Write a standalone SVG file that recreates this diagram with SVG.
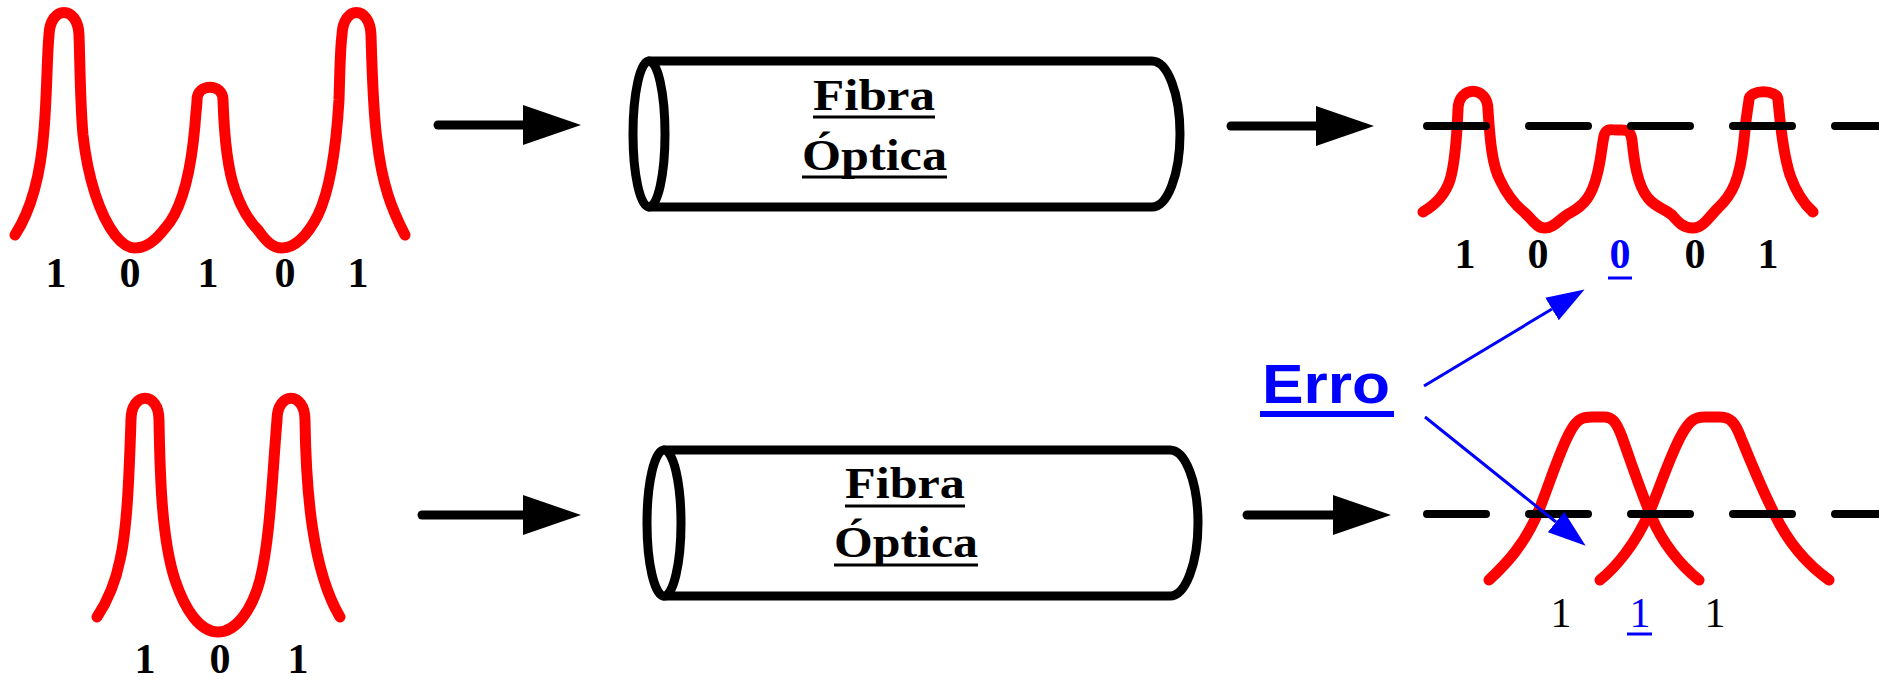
<svg xmlns="http://www.w3.org/2000/svg" width="1879" height="680" viewBox="0 0 1879 680">
<style>
.wave{fill:none;stroke:#ff0000;stroke-width:11;stroke-linecap:round;stroke-linejoin:round}
.cyl{fill:#ffffff;stroke:#000000;stroke-width:9;stroke-linejoin:round}
.dash{stroke:#000000;stroke-width:8;stroke-linecap:round;stroke-dasharray:59 43}
.arrow{stroke:#000000;stroke-width:9;stroke-linecap:round;fill:none}
.barrow{stroke:#0000ff;stroke-width:3;fill:none}
.lbl{font-family:"Liberation Serif","Times New Roman",serif;font-weight:bold;font-size:42px;fill:#000000;text-anchor:middle}
.lblr{font-family:"Liberation Serif","Times New Roman",serif;font-weight:normal;font-size:42px;fill:#000000;text-anchor:middle}
.blue{fill:#0000ff}
.fib{font-family:"Liberation Serif","Times New Roman",serif;font-weight:bold;font-size:44px;fill:#000000}
.ul{stroke:#000000;stroke-width:3}
.ulb{stroke:#0000ff;stroke-width:3}
.erro{font-family:"Liberation Sans",Arial,sans-serif;font-weight:bold;font-size:56px;fill:#0000ff}
</style>
<defs>
<marker id="ah" markerUnits="userSpaceOnUse" markerWidth="60" markerHeight="42" viewBox="0 -21 60 42" refX="0" refY="0" orient="auto">
<path d="M0,-20 L58,0 L0,20 Z" fill="#000000"/>
</marker>
<marker id="bh" markerUnits="userSpaceOnUse" markerWidth="40" markerHeight="28" viewBox="0 -14 40 28" refX="0" refY="0" orient="auto">
<path d="M0,-13 L38,0 L0,13 Z" fill="#0000ff"/>
</marker>
</defs>

<g id="input-top">
<path class="wave" d="M15,235 C28,215 40,185 44,130 C47,95 47,55 49,35 C50,5 78,5 79,35 C80,60 80,100 83,135 C88,180 100,215 115,235 C122,244 128,248 135,248 C150,248 160,235 170,222 C185,200 192,160 195,125 C196,110 197,105 197,100 C197,83 223,83 223,100 C224,130 226,165 235,190 C242,210 250,222 258,230 C265,240 272,248 282,248 C295,248 308,235 318,215 C330,190 336,150 339,100 C340,70 340,50 342,35 C343,5 370,5 371,35 C372,70 373,110 377,140 C382,185 392,210 405,235"/>
<text class="lbl" x="56" y="287">1</text>
<text class="lbl" x="130" y="287">0</text>
<text class="lbl" x="208" y="287">1</text>
<text class="lbl" x="285" y="287">0</text>
<text class="lbl" x="358" y="287">1</text>
</g>

<g id="fiber-top">
<path class="cyl" d="M649,61 H1152 A28,73 0 0 1 1152,207 H649 Z"/>
<ellipse class="cyl" cx="649" cy="134" rx="16" ry="73"/>
<text class="fib" x="813" y="110" textLength="122" lengthAdjust="spacingAndGlyphs">Fibra</text>
<line class="ul" x1="813" y1="117" x2="935" y2="117"/>
<text class="fib" x="802" y="170" textLength="145" lengthAdjust="spacingAndGlyphs">Óptica</text>
<line class="ul" x1="802" y1="177" x2="947" y2="177"/>
</g>

<g id="output-top">
<path class="wave" d="M1423,212 C1435,205 1445,195 1450,180 C1456,160 1457,130 1458,110 C1458,85 1488,85 1488,110 C1490,140 1492,165 1500,180 C1507,195 1515,205 1525,213 C1532,219 1536,228 1545,228 C1555,228 1561,217 1570,213 C1585,205 1592,195 1597,175 C1601,160 1602,145 1604,136 C1606,128 1610,130 1617,130 C1625,130 1630,128 1632,140 C1634,160 1637,185 1648,198 C1655,207 1665,209 1672,215 C1678,222 1683,228 1693,228 C1703,228 1708,218 1718,208 C1732,195 1740,180 1744,140 C1746,115 1748,108 1749,100 C1749,89 1778,89 1778,100 C1780,120 1782,150 1790,175 C1796,192 1805,205 1813,212"/>
<line class="dash" x1="1427" y1="126" x2="1890" y2="126"/>
<text class="lbl" x="1465" y="268">1</text>
<text class="lbl" x="1538" y="268">0</text>
<text class="lbl blue" x="1620" y="268">0</text>
<line class="ulb" x1="1608" y1="278" x2="1632" y2="278"/>
<text class="lbl" x="1695" y="268">0</text>
<text class="lbl" x="1768" y="268">1</text>
</g>

<g id="input-bottom">
<path class="wave" d="M97,617 C105,605 115,585 120,560 C127,530 129,480 131,420 C131,391 159,391 159,420 C160,480 162,540 175,580 C185,610 200,632 218,632 C236,632 252,610 260,580 C270,540 272,480 277,420 C277,391 305,391 305,420 C306,490 312,570 340,617"/>
<text class="lbl" x="145" y="673">1</text>
<text class="lbl" x="220" y="673">0</text>
<text class="lbl" x="298" y="673">1</text>
</g>

<g id="fiber-bottom">
<path class="cyl" d="M664,450 H1170 A28,73 0 0 1 1170,596 H664 Z"/>
<ellipse class="cyl" cx="664" cy="523" rx="17" ry="73"/>
<text class="fib" x="845" y="498" textLength="120" lengthAdjust="spacingAndGlyphs">Fibra</text>
<line class="ul" x1="845" y1="506" x2="965" y2="506"/>
<text class="fib" x="834" y="557" textLength="144" lengthAdjust="spacingAndGlyphs">Óptica</text>
<line class="ul" x1="834" y1="565" x2="978" y2="565"/>
</g>

<g id="output-bottom">
<path class="wave" d="M1489,580 C1505,565 1525,545 1539,510 C1550,482 1560,450 1570,432 C1577,419 1582,417 1592,417 L1604,417 C1612,417 1616,421 1622,437 C1632,465 1640,490 1652,518 C1662,542 1680,565 1699,580"/>
<path class="wave" d="M1600,580 C1615,568 1635,545 1649,513 C1660,488 1670,455 1682,434 C1690,420 1695,417 1705,417 L1720,417 C1730,417 1735,422 1741,438 C1750,460 1762,490 1775,515 C1788,542 1808,565 1829,580"/>
<line class="dash" x1="1427" y1="514" x2="1890" y2="514"/>
<text class="lblr" x="1561" y="627">1</text>
<text class="lblr blue" x="1640" y="627">1</text>
<line class="ulb" x1="1627" y1="634" x2="1652" y2="634"/>
<text class="lblr" x="1715" y="627">1</text>
</g>

<g id="erro">
<text class="erro" x="1262" y="403" textLength="128" lengthAdjust="spacingAndGlyphs">Erro</text>
<line x1="1260" y1="414" x2="1394" y2="414" stroke="#0000ff" stroke-width="6"/>
</g>

<g id="connectors">
<line class="arrow" x1="438" y1="125" x2="523" y2="125" marker-end="url(#ah)"/>
<line class="arrow" x1="1231" y1="126" x2="1316" y2="126" marker-end="url(#ah)"/>
<line class="arrow" x1="422" y1="515" x2="523" y2="515" marker-end="url(#ah)"/>
<line class="arrow" x1="1247" y1="515" x2="1333" y2="515" marker-end="url(#ah)"/>
<line class="barrow" x1="1424" y1="386" x2="1552" y2="309" marker-end="url(#bh)"/>
<line class="barrow" x1="1425" y1="417" x2="1556" y2="522" marker-end="url(#bh)"/>
</g>
</svg>
